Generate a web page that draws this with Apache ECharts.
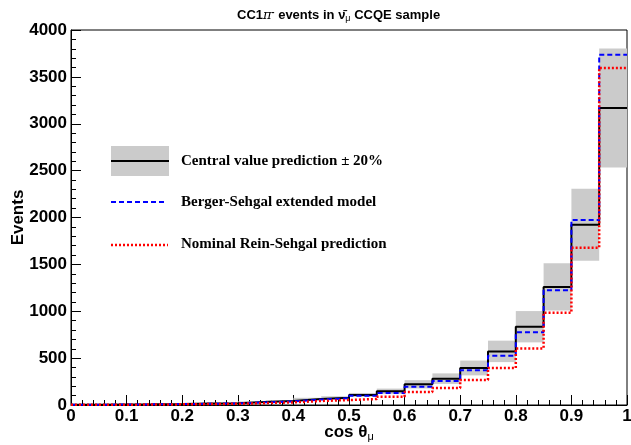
<!DOCTYPE html>
<html><head><meta charset="utf-8">
<script src="https://cdn.jsdelivr.net/npm/echarts@6/dist/echarts.min.js"></script>
<style>html,body{margin:0;padding:0;background:#fff}#c{width:631px;height:445px}</style>
</head><body><div id="c"></div>
<script>
// bin lower edges of cos(theta_mu)
const binLow = [0.00,0.05,0.10,0.15,0.20,0.25,0.30,0.35,0.40,0.45,0.50,0.55,0.60,0.65,0.70,0.75,0.80,0.85,0.90,0.95];
const binHigh = [0.05,0.10,0.15,0.20,0.25,0.30,0.35,0.40,0.45,0.50,0.55,0.60,0.65,0.70,0.75,0.80,0.85,0.90,0.95,1.00];
// central value prediction
const central = [4,6,8,11,15,19,32,43,64,78,107,146,221,281,395,572,835,1259,1923,3168];
// Berger-Sehgal extended model
const berger = [3,5,7,10,13,17,28,39,58,72,98,128,195,256,370,526,775,1223,1973,3737];
// Nominal Rein-Sehgal prediction
const rein = [2,3,5,7,10,13,20,28,43,53,64,89,139,181,267,395,604,985,1678,3595];
const bandFrac = 0.20;
const xTicks = [0,0.1,0.2,0.3,0.4,0.5,0.6,0.7,0.8,0.9,1];
const yTicks = [0,500,1000,1500,2000,2500,3000,3500,4000];

function stepData(vals){
  const d = binLow.map((x,i)=>[x, vals[i]]);
  d.push([binHigh[binHigh.length-1], vals[vals.length-1]]);
  return d;
}
const bandData = binLow.map((x,i)=>[x, binHigh[i], central[i]*(1-bandFrac), central[i]*(1+bandFrac)]);

const FONT = 'Liberation Sans';
const chart = echarts.init(document.getElementById('c'), null, {renderer:'canvas'});
chart.setOption({
  animation:false,
  backgroundColor:'#fff',
  title:{
    text:'CC1{it|π}{sup|-} events in ν\u0304{sub|μ} CCQE sample',
    left:232, top:3,
    textStyle:{fontFamily:FONT, fontWeight:'bold', fontSize:13, color:'#000',
      rich:{
        it:{fontFamily:'DejaVu Serif', fontStyle:'italic', fontSize:13, fontWeight:'normal', color:'#000'},
        sup:{fontFamily:FONT, fontSize:9, fontWeight:'bold', color:'#000', verticalAlign:'top', padding:[0,0,6,0]},
        sub:{fontFamily:FONT, fontSize:9, fontWeight:'normal', color:'#000', padding:[6,0,0,0]}
      }}
  },
  grid:{left:71, right:4, top:30, bottom:40, outerBoundsMode:'none', containLabel:false,
    show:true, borderColor:'#000', borderWidth:1, backgroundColor:'transparent'},
  xAxis:{
    type:'value', min:0, max:1, interval:0.1,
    name:'cos θ{sub|μ}', nameLocation:'middle', nameGap:18, nameMoveOverlap:false,
    nameTextStyle:{fontFamily:FONT, fontWeight:'bold', fontSize:17, color:'#000',
      rich:{sub:{fontFamily:FONT, fontSize:11, fontWeight:'normal', color:'#000', padding:[8,0,0,0]}}},
    axisLine:{show:true, onZero:false, lineStyle:{color:'#000', width:1}},
    axisTick:{show:true, inside:true, length:10, lineStyle:{color:'#000'}},
    minorTick:{show:true, splitNumber:5, length:5, lineStyle:{color:'#000'}},
    splitLine:{show:false},
    axisLabel:{fontFamily:FONT, fontWeight:'bold', fontSize:17, color:'#000', margin:3,
      formatter:v=>{const t=xTicks.find(a=>Math.abs(a-v)<1e-9); return t===undefined?'':String(t);}}
  },
  yAxis:{
    type:'value', min:0, max:4000, interval:500,
    name:'Events', nameLocation:'middle', nameGap:44, nameMoveOverlap:false,
    nameTextStyle:{fontFamily:FONT, fontWeight:'bold', fontSize:17, color:'#000'},
    axisLine:{show:true, lineStyle:{color:'#000', width:1}},
    axisTick:{show:true, inside:true, length:10, lineStyle:{color:'#000'}},
    minorTick:{show:true, splitNumber:5, length:5, lineStyle:{color:'#000'}},
    splitLine:{show:false},
    axisLabel:{fontFamily:FONT, fontWeight:'bold', fontSize:17, color:'#000', margin:4,
      formatter:v=>{const t=yTicks.find(a=>Math.abs(a-v)<1e-6); return t===undefined?'':String(t);}}
  },
  series:[
    {type:'custom', name:'band', data:bandData, encode:{x:[0,1], y:[2,3]}, z:1, silent:true,
      renderItem:(params, api)=>{
        const p0 = api.coord([api.value(0), api.value(3)]);
        const p1 = api.coord([api.value(1), api.value(2)]);
        return {type:'rect', shape:{x:p0[0], y:p0[1], width:p1[0]-p0[0], height:p1[1]-p0[1]}, style:{fill:'#cbcbcb'}};
      }},
    {type:'line', name:'central', data:stepData(central), step:'end', symbol:'none', z:3,
      lineStyle:{color:'#000', width:2}},
    {type:'line', name:'berger', data:stepData(berger), step:'end', symbol:'none', z:4,
      lineStyle:{color:'#0000ff', width:2, type:[5,3]}},
    {type:'line', name:'rein', data:stepData(rein), step:'end', symbol:'none', z:5,
      lineStyle:{color:'#ff0000', width:2.5, type:[2,2]}}
  ],
  graphic:[
    {type:'rect', shape:{x:111, y:146, width:58, height:30}, style:{fill:'#cbcbcb'}, z:10},
    {type:'line', shape:{x1:111, y1:161, x2:169, y2:161}, style:{stroke:'#000', lineWidth:2}, z:11},
    {type:'text', x:181, y:161, style:{text:'Central value prediction ± 20%', fontFamily:'Liberation Serif', fontWeight:'bold', fontSize:15, fill:'#000', textVerticalAlign:'middle'}, z:11},
    {type:'line', shape:{x1:111, y1:202, x2:166, y2:202}, style:{stroke:'#0000ff', lineWidth:2, lineDash:[5,3]}, z:11},
    {type:'text', x:181, y:202, style:{text:'Berger-Sehgal extended model', fontFamily:'Liberation Serif', fontWeight:'bold', fontSize:15, fill:'#000', textVerticalAlign:'middle'}, z:11},
    {type:'line', shape:{x1:111, y1:245, x2:168, y2:245}, style:{stroke:'#ff0000', lineWidth:2.5, lineDash:[2,2]}, z:11},
    {type:'text', x:181, y:244, style:{text:'Nominal Rein-Sehgal prediction', fontFamily:'Liberation Serif', fontWeight:'bold', fontSize:15, fill:'#000', textVerticalAlign:'middle'}, z:11}
  ]
});
</script></body></html>
